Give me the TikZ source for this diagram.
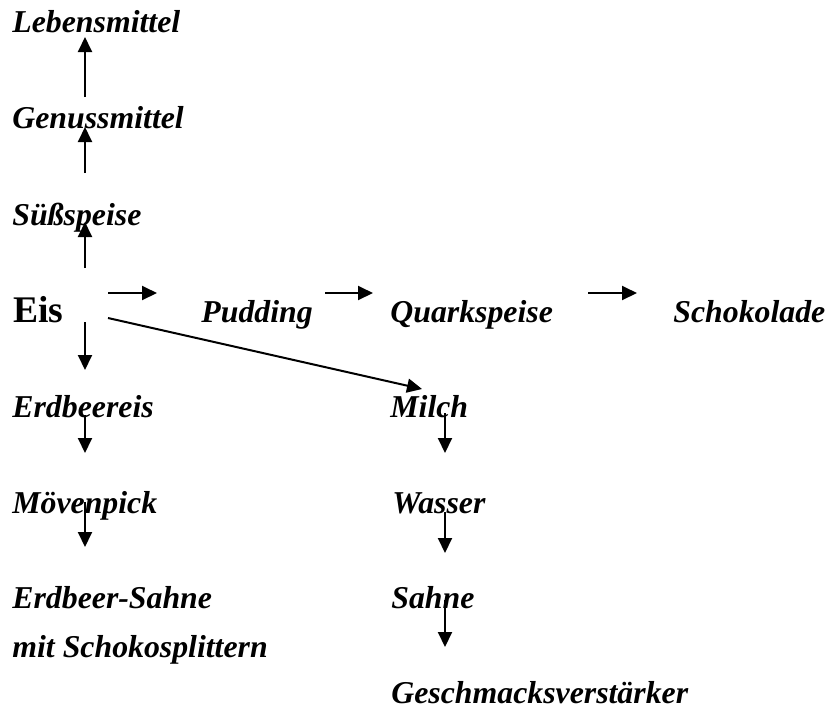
\documentclass[tikz,border=0pt]{standalone}
\usepackage{fontspec}
\setmainfont{Liberation Serif}
\usetikzlibrary{arrows.meta}
\begin{document}
\begin{tikzpicture}[x=0.5pt,y=-0.5pt,
  lbl/.style={anchor=base west,inner sep=0pt,font=\fontsize{15.9}{19}\selectfont\bfseries\itshape},
  big/.style={anchor=base west,inner sep=0pt,font=\fontsize{18.8}{22}\selectfont\bfseries},
  arr/.style={line width=1pt,-{Triangle[length=7.5pt,width=7pt]}}]
\useasboundingbox (0,0) rectangle (827,709);
% nodes
\node[lbl] (leb) at (12,32) {Lebensmittel};
\node[lbl] (gen) at (12,128) {Genussmittel};
\node[lbl] (sue) at (12,225) {Süßspeise};
\node[big] (eis) at (13,322) {Eis};
\node[lbl] (pud) at (201,322) {Pudding};
\node[lbl] (quark) at (390,322) {Quarkspeise};
\node[lbl] (schoko) at (673,322) {Schokolade};
\node[lbl] (erdeis) at (12,417) {Erdbeereis};
\node[lbl] (moev) at (12,513) {Mövenpick};
\node[lbl] (sahne1) at (12,608) {Erdbeer-Sahne};
\node[lbl] (sahne1b) at (12,657) {mit Schokosplittern};
\node[lbl] (milch) at (390,417) {Milch};
\node[lbl] (wasser) at (392,513) {Wasser};
\node[lbl] (sahne2) at (391,608) {Sahne};
\node[lbl] (gesch) at (391,703) {Geschmacksverstärker};
% arrow endpoints
\coordinate (g1) at (85,97);  \coordinate (l1) at (85,37);
\coordinate (s1) at (85,173); \coordinate (g2) at (85,127);
\coordinate (e1) at (85,268); \coordinate (s2) at (85,222);
\coordinate (e2) at (108,293); \coordinate (p1) at (157,293);
\coordinate (p2) at (325,293); \coordinate (q1) at (373,293);
\coordinate (q2) at (588,293); \coordinate (k1) at (637,293);
\coordinate (e3) at (85,322); \coordinate (r1) at (85,370);
\coordinate (e4) at (108,318); \coordinate (m1) at (422,389);
\coordinate (r2) at (85,415); \coordinate (v1) at (85,453);
\coordinate (v2) at (85,502); \coordinate (h1) at (85,547);
\coordinate (m2) at (445,413); \coordinate (w1) at (445,453);
\coordinate (w2) at (445,512); \coordinate (a1) at (445,553);
\coordinate (a2) at (445,600); \coordinate (c1) at (445,647);
% connectors
\draw[arr] (g1) -- (l1);
\draw[arr] (s1) -- (g2);
\draw[arr] (e1) -- (s2);
\draw[arr] (e2) -- (p1);
\draw[arr] (p2) -- (q1);
\draw[arr] (q2) -- (k1);
\draw[arr] (e3) -- (r1);
\draw[arr] (e4) -- (m1);
\draw[arr] (r2) -- (v1);
\draw[arr] (v2) -- (h1);
\draw[arr] (m2) -- (w1);
\draw[arr] (w2) -- (a1);
\draw[arr] (a2) -- (c1);
\end{tikzpicture}
\end{document}
